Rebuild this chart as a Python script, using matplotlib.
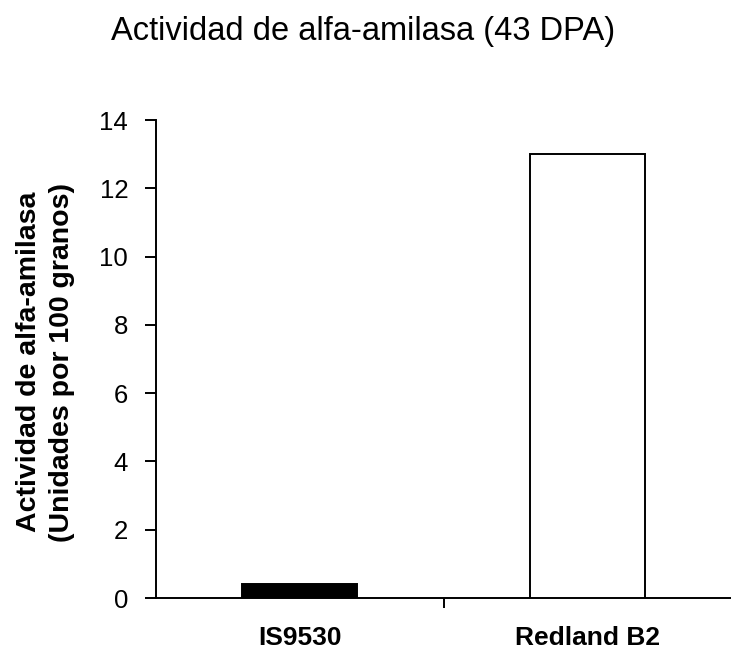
import matplotlib
matplotlib.use("Agg")
import matplotlib.pyplot as plt
from matplotlib.ticker import FixedLocator

categories = ["IS9530", "Redland B2"]
values = [0.41, 13.0]
bar_colors = ["black", "white"]
yticks = [0, 2, 4, 6, 8, 10, 12, 14]

plt.rcParams['font.family'] = ['Liberation Sans', 'DejaVu Sans']

fig = plt.figure(figsize=(7.31, 6.55), dpi=100)
ax = fig.add_axes([156/731, 1 - 598/655, 1 - 156/731, (598 - 120)/655])

x = list(range(len(categories)))
ax.bar(x, values, width=0.40, color=bar_colors, edgecolor="black", linewidth=1.4, zorder=3)

ax.set_xlim(-0.5, 1.5)
ax.set_ylim(0, 14)
ax.set_yticks(yticks)
ax.set_yticklabels([str(t) for t in yticks], fontsize=18.5)
ax.set_xticks(x)
ax.set_xticklabels(categories, fontsize=19, fontweight="bold")
ax.xaxis.set_minor_locator(FixedLocator([0.5]))
ax.tick_params(axis="x", which="major", length=0, pad=20)
ax.tick_params(axis="x", which="minor", length=7, width=1.4, direction="out")
ax.tick_params(axis="y", length=8, width=1.4, direction="out", pad=12)

for s in ["top", "right"]:
    ax.spines[s].set_visible(False)
for s in ["left", "bottom"]:
    ax.spines[s].set_linewidth(1.4)

fig.text(46/731, 1 - 362/655, "Actividad de alfa-amilasa\n(Unidades por 100 granos)",
         fontsize=20.5, fontweight="bold", rotation=90, ha="center", va="center",
         multialignment="center", linespacing=1.35)

fig.text(363/731, 1 - 40/655, "Actividad de alfa-amilasa (43 DPA)", fontsize=23.5,
         ha="center", va="baseline")

fig.savefig("out.png", dpi=100)
